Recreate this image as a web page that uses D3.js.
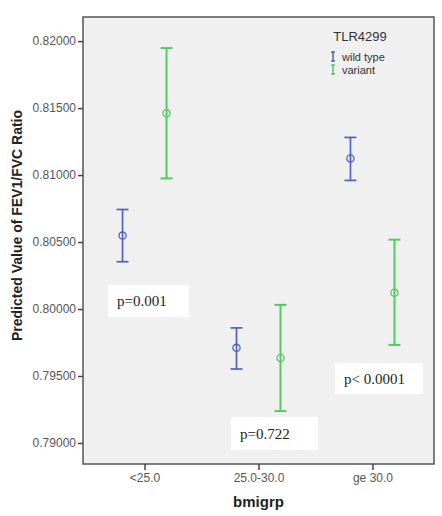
<!DOCTYPE html>
<html>
<head>
<meta charset="utf-8">
<script src="https://cdn.jsdelivr.net/npm/d3@7"></script>
<style>
  body { margin: 0; background: #fff; }
  svg text { font-family: Arial, "Liberation Sans", sans-serif; }
</style>
</head>
<body>
<div id="chart"></div>
<script>
// bmi groups and the two genotype series (mean, lower CI, upper CI)
const groups = ["<25.0", "25.0-30.0", "ge 30.0"];
const series = ["wild type", "variant"];
const wildMean = [0.80548, 0.79710, 0.81124];
const wildLow = [0.80353, 0.79552, 0.80960];
const wildHigh = [0.80743, 0.79859, 0.81281];
const variantMean = [0.81461, 0.79635, 0.80121];
const variantLow = [0.80975, 0.79238, 0.79732];
const variantHigh = [0.81948, 0.80031, 0.80518];
const yTicks = [0.79, 0.795, 0.80, 0.805, 0.81, 0.815, 0.82];
const pLabels = ["p=0.001", "p=0.722", "p< 0.0001"];

const width = 442;
const height = 516;
const margin = { top: 17, right: 8, bottom: 52, left: 83 };
const colors = { "wild type": "#5061c4", "variant": "#55c962" };

const svg = d3.select("#chart")
  .append("svg")
  .attr("width", width)
  .attr("height", height);

const x = d3.scalePoint()
  .domain(groups)
  .range([margin.left, width - margin.right])
  .padding(0.54);

const y = d3.scaleLinear()
  .domain([0.78843, 0.8218])
  .range([height - margin.bottom, margin.top]);

const offset = d3.scalePoint().domain(series).range([-22, 22]);

// plot background + frame
svg.append("rect")
  .attr("x", margin.left)
  .attr("y", margin.top)
  .attr("width", width - margin.left - margin.right)
  .attr("height", height - margin.top - margin.bottom)
  .attr("fill", "#f0f0f0")
  .attr("stroke", "#555")
  .attr("stroke-width", 1.5);

// axes
const yAxis = svg.append("g")
  .attr("transform", `translate(${margin.left},0)`)
  .call(d3.axisLeft(y).tickValues(yTicks).tickFormat(d3.format(".5f")).tickSize(5).tickPadding(2));
yAxis.select(".domain").remove();

const xAxis = svg.append("g")
  .attr("transform", `translate(0,${height - margin.bottom})`)
  .call(d3.axisBottom(x).tickSize(6).tickPadding(3));
xAxis.select(".domain").remove();

svg.selectAll(".tick line").attr("stroke", "#444").attr("stroke-width", 1.5);
svg.selectAll(".tick text")
  .attr("fill", "#555")
  .style("font-size", "12px")
  .style("font-family", "Arial, 'Liberation Sans', sans-serif");

// axis titles
svg.append("text")
  .attr("transform", `translate(22,${(margin.top + height - margin.bottom) / 2 - 15}) rotate(-90)`)
  .attr("text-anchor", "middle")
  .attr("font-weight", "bold")
  .attr("font-size", "14px")
  .attr("fill", "#222")
  .text("Predicted Value of FEV1/FVC Ratio");

svg.append("text")
  .attr("x", x("25.0-30.0"))
  .attr("y", 507)
  .attr("text-anchor", "middle")
  .attr("font-weight", "bold")
  .attr("font-size", "15px")
  .attr("fill", "#222")
  .text("bmigrp");

// build error bar rows
const rows = [];
groups.forEach((g, i) => {
  rows.push({ group: g, key: "wild type", mean: wildMean[i], low: wildLow[i], high: wildHigh[i] });
  rows.push({ group: g, key: "variant", mean: variantMean[i], low: variantLow[i], high: variantHigh[i] });
});

const bars = svg.append("g")
  .selectAll("g")
  .data(rows)
  .join("g")
  .attr("transform", d => `translate(${x(d.group) + offset(d.key)},0)`)
  .attr("stroke", d => colors[d.key])
  .attr("stroke-width", d => d.key === "variant" ? 2 : 1.7)
  .attr("fill", "none");

bars.append("line")
  .attr("y1", d => y(d.low))
  .attr("y2", d => y(d.high));
bars.append("line")
  .attr("x1", -6).attr("x2", 6)
  .attr("y1", d => y(d.high)).attr("y2", d => y(d.high));
bars.append("line")
  .attr("x1", -6).attr("x2", 6)
  .attr("y1", d => y(d.low)).attr("y2", d => y(d.low));
bars.append("circle")
  .attr("cy", d => y(d.mean))
  .attr("r", 3.6)
  .attr("fill", "none")
  .attr("stroke-width", 1.3);

// p-value boxes
const pBoxes = [
  { x: 108, y: 285, w: 81, h: 32 },
  { x: 231, y: 417, w: 87, h: 33 },
  { x: 335, y: 363, w: 88, h: 31 }
];
pBoxes.forEach((b, i) => {
  svg.append("rect")
    .attr("x", b.x).attr("y", b.y)
    .attr("width", b.w).attr("height", b.h)
    .attr("fill", "#fff");
  svg.append("text")
    .attr("x", b.x + 9)
    .attr("y", b.y + b.h / 2 + 5)
    .style("font-family", "'Liberation Serif', 'Times New Roman', serif")
    .attr("font-size", "15px")
    .attr("fill", "#222")
    .text(pLabels[i]);
});

// legend
const legend = svg.append("g");
legend.append("text")
  .attr("x", 360).attr("y", 41)
  .attr("text-anchor", "middle")
  .attr("font-size", "13px")
  .attr("fill", "#333")
  .text("TLR4299");

series.forEach((s, i) => {
  const ly = 57 + i * 13;
  const g = legend.append("g")
    .attr("stroke", colors[s])
    .attr("stroke-width", 1.5);
  g.append("line").attr("x1", 333).attr("x2", 333).attr("y1", ly - 5).attr("y2", ly + 4);
  g.append("line").attr("x1", 331).attr("x2", 335).attr("y1", ly - 5).attr("y2", ly - 5);
  g.append("line").attr("x1", 331).attr("x2", 335).attr("y1", ly + 4).attr("y2", ly + 4);
  legend.append("text")
    .attr("x", 342).attr("y", ly + 3.5)
    .attr("font-size", "11px")
    .attr("fill", "#333")
    .text(s);
});
</script>
</body>
</html>
